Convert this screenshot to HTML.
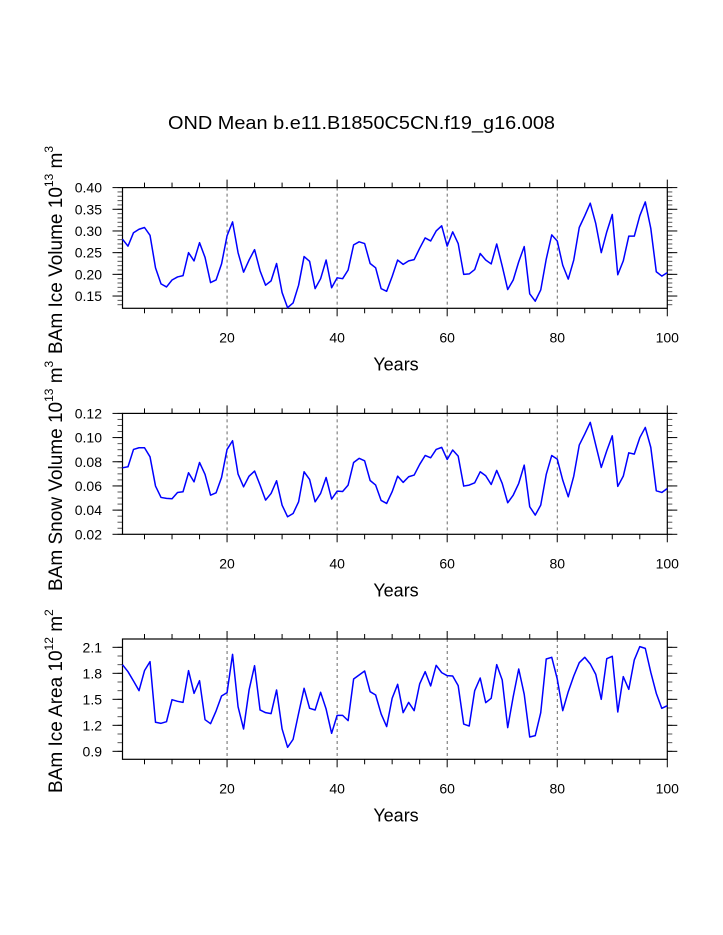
<!DOCTYPE html>
<html><head><meta charset="utf-8"><style>
html,body{margin:0;padding:0;background:#fff;}
svg{display:block;font-family:"Liberation Sans",sans-serif;}
</style></head><body>
<svg id="chart" width="723" height="935" viewBox="0 0 723 935" xmlns="http://www.w3.org/2000/svg">
<text x="361.5" y="129" font-size="18" text-anchor="middle" textLength="387" lengthAdjust="spacingAndGlyphs">OND Mean b.e11.B1850C5CN.f19_g16.008</text>
</svg>
<script>
const iceVolume = [0.281,0.265,0.296,0.304,0.308,0.290,0.215,0.178,0.171,0.187,0.194,0.197,0.250,0.231,0.273,0.239,0.181,0.187,0.224,0.289,0.321,0.250,0.205,0.233,0.257,0.208,0.175,0.185,0.225,0.158,0.123,0.134,0.175,0.241,0.230,0.167,0.190,0.233,0.169,0.192,0.190,0.210,0.268,0.275,0.271,0.225,0.215,0.167,0.161,0.195,0.233,0.223,0.231,0.234,0.260,0.284,0.277,0.300,0.312,0.265,0.298,0.271,0.200,0.201,0.211,0.248,0.233,0.224,0.270,0.219,0.165,0.187,0.229,0.264,0.155,0.138,0.164,0.235,0.291,0.277,0.221,0.189,0.233,0.308,0.335,0.364,0.317,0.250,0.298,0.338,0.199,0.231,0.288,0.288,0.335,0.367,0.306,0.206,0.196,0.204];
const snowVolume = [0.0750,0.0759,0.0902,0.0916,0.0916,0.0841,0.0599,0.0505,0.0497,0.0494,0.0546,0.0552,0.0709,0.0634,0.0794,0.0695,0.0524,0.0543,0.0670,0.0902,0.0974,0.0698,0.0593,0.0681,0.0723,0.0607,0.0483,0.0538,0.0643,0.0441,0.0345,0.0372,0.0469,0.0717,0.0654,0.0469,0.0538,0.0670,0.0491,0.0557,0.0554,0.0607,0.0794,0.0828,0.0808,0.0645,0.0607,0.0480,0.0455,0.0552,0.0681,0.0629,0.0676,0.0690,0.0778,0.0852,0.0833,0.0902,0.0919,0.0819,0.0897,0.0847,0.0599,0.0607,0.0626,0.0717,0.0684,0.0612,0.0728,0.0621,0.0461,0.0524,0.0621,0.0772,0.0428,0.0359,0.0441,0.0695,0.0852,0.0822,0.0648,0.0510,0.0681,0.0938,0.1029,0.1126,0.0938,0.0753,0.0891,0.1015,0.0596,0.0681,0.0874,0.0863,0.0999,0.1084,0.0919,0.0560,0.0546,0.0579];
const iceArea = [1.900,1.819,1.712,1.600,1.831,1.935,1.235,1.223,1.242,1.496,1.477,1.465,1.831,1.569,1.715,1.265,1.219,1.365,1.538,1.577,2.019,1.415,1.158,1.608,1.888,1.377,1.346,1.335,1.608,1.158,0.946,1.038,1.338,1.627,1.396,1.377,1.581,1.388,1.108,1.315,1.315,1.254,1.735,1.781,1.827,1.588,1.550,1.331,1.185,1.512,1.673,1.346,1.465,1.369,1.677,1.819,1.654,1.892,1.808,1.773,1.769,1.658,1.215,1.192,1.600,1.746,1.462,1.512,1.900,1.723,1.173,1.531,1.850,1.558,1.065,1.081,1.346,1.965,1.985,1.735,1.369,1.588,1.769,1.923,1.985,1.908,1.788,1.500,1.969,1.996,1.354,1.762,1.615,1.954,2.108,2.088,1.812,1.569,1.396,1.427];
const xTickLabels = [20,40,60,80,100];
const iceVolTicks = ["0.15","0.20","0.25","0.30","0.35","0.40"];
const snowVolTicks = ["0.02","0.04","0.06","0.08","0.10","0.12"];
const iceAreaTicks = ["0.9","1.2","1.5","1.8","2.1"];

const NS="http://www.w3.org/2000/svg";
const svg=document.getElementById('chart');
function mk(tag,attrs,parent){const e=document.createElementNS(NS,tag);for(const k in attrs)e.setAttribute(k,attrs[k]);(parent||svg).appendChild(e);return e;}
const X0=122.5,X1=667.3;
function xs(yr){return X0+(yr-1)*(X1-X0)/99;}

const panels=[
 {name:'ice-volume',top:187.6,bot:308.3,vmin:0.1217,vmax:0.40,data:iceVolume,ticks:iceVolTicks,minor:0.01,title:['BAm Ice Volume 10','13',' m','3']},
 {name:'snow-volume',top:413.4,bot:534.3,vmin:0.02,vmax:0.12,data:snowVolume,ticks:snowVolTicks,minor:0.005,title:['BAm Snow Volume 10','13',' m','3']},
 {name:'ice-area',top:639,bot:759.3,vmin:0.808,vmax:2.196,data:iceArea,ticks:iceAreaTicks,minor:0.1,title:['BAm Ice Area 10','12',' m','2']}
];
panels.forEach(p=>{
 const g=mk('g',{});
 
 
 const ys=v=>p.bot-(v-p.vmin)/(p.vmax-p.vmin)*(p.bot-p.top);
 // dashed gridlines
 xTickLabels.slice(0,4).forEach(t=>{
  const l=mk('line',{x1:xs(t),x2:xs(t),y1:p.top,y2:p.bot,stroke:'#444','stroke-width':0.8,'stroke-dasharray':'3,3'},g);
  
  
 });
 // x ticks
 for(let yr=5;yr<=100;yr+=5){
  const len=(yr%20===0)?8:5;const x=xs(yr);
  mk('line',{x1:x,x2:x,y1:p.bot,y2:p.bot+len,stroke:'#000','stroke-width':1},g);
  mk('line',{x1:x,x2:x,y1:p.top,y2:p.top-len,stroke:'#000','stroke-width':1},g);
 }
 xTickLabels.forEach(t=>{
  const tx=mk('text',{x:xs(t),y:p.bot+34,'font-size':14,'text-anchor':'middle'},g);
  
  
  tx.textContent=t;
 });
 // y minor ticks
 const n=Math.round((p.vmax-p.vmin)/p.minor)+2;
 const start=Math.ceil(p.vmin/p.minor-1e-6)*p.minor;
 for(let i=0;i<n;i++){const v=start+i*p.minor;if(v>p.vmax+1e-9)break;const y=ys(v);
  mk('line',{x1:X0,x2:X0-5,y1:y,y2:y,stroke:'#555','stroke-width':1},g);
  mk('line',{x1:X1,x2:X1+5,y1:y,y2:y,stroke:'#555','stroke-width':1},g);}
 p.ticks.forEach(t=>{const y=ys(parseFloat(t));
  mk('line',{x1:X0,x2:X0-10,y1:y,y2:y,stroke:'#000','stroke-width':1},g);
  mk('line',{x1:X1,x2:X1+10,y1:y,y2:y,stroke:'#000','stroke-width':1},g);
  const tx=mk('text',{x:102,y:y+5,'font-size':14,'text-anchor':'end'},g);
  
  
  tx.textContent=t;});
 // frame
 const fr=mk('rect',{x:X0,y:p.top,width:X1-X0,height:p.bot-p.top,fill:'none',stroke:'#000','stroke-width':1.2},g);
 
 
 // series
 const pts=p.data.map((v,i)=>xs(i+1).toFixed(2)+','+ys(v).toFixed(2)).join(' ');
 const pl=mk('polyline',{points:pts,fill:'none',stroke:'#0000ff','stroke-width':1.5,'stroke-linejoin':'round'},g);
 
 
 // x title
 const xt=mk('text',{x:396,y:p.bot+62,'font-size':18,'text-anchor':'middle'},g);
 
 
 xt.textContent='Years';
 // y title
 const cy=(p.top+p.bot)/2+2;
 const yt=mk('text',{x:0,y:0,'font-size':19,'text-anchor':'middle',transform:'translate(62,'+cy+') rotate(-90)'},g);
 
 
 const parts=p.title;
 parts.forEach((s,i)=>{const ts=mk('tspan',{},yt);
  if(i%2===1){ts.setAttribute('font-size','12');ts.setAttribute('dy','-9');}
  else if(i>0){ts.setAttribute('dy','9');}
  ts.textContent=s;});
});
</script>
</body></html>
